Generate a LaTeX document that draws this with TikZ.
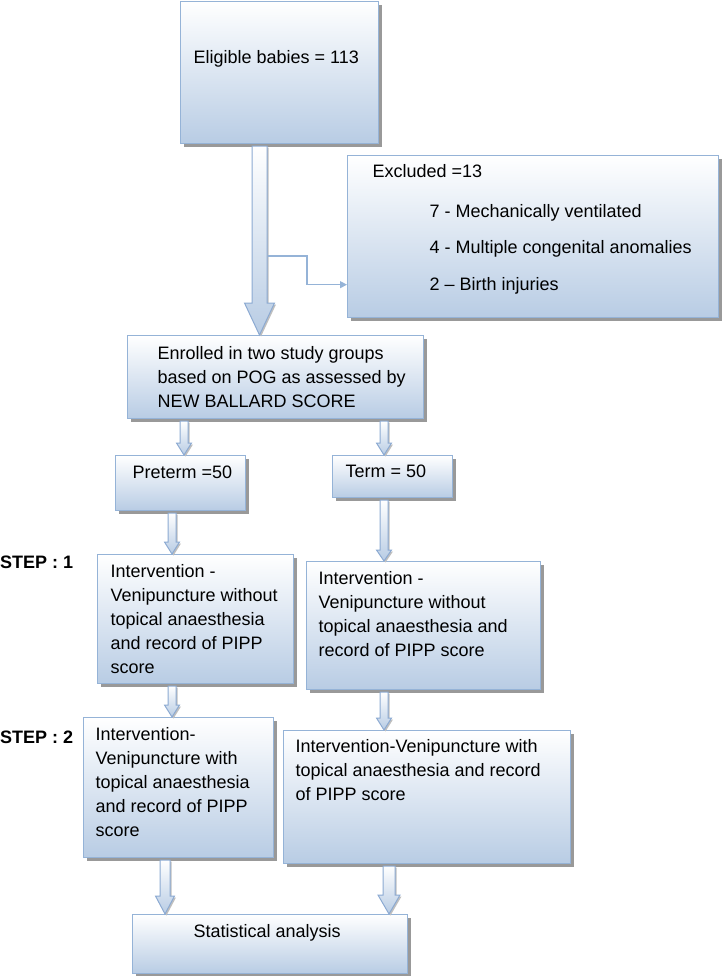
\documentclass[tikz,border=0pt]{standalone}
\usepackage{fontspec}
\setmainfont{Liberation Sans}
\usetikzlibrary{calc,shadows,arrows.meta}
\definecolor{boxblue}{RGB}{184,204,228}
\definecolor{bordercol}{RGB}{149,179,215}
\definecolor{arrowborder}{RGB}{140,170,210}
% width, height, indent, first baseline, text
\newcommand\boxtxt[5]{\parbox[c][#2pt][t]{#1pt}{\vspace*{\dimexpr#4pt-14pt\relax}\leftskip=#3pt\relax\rightskip=0pt plus 1fil\relax\noindent\rule{0pt}{14pt}#5\par}}
% from, to, half shaft, half head, head length
\newcommand\blockarrow[5]{\path[arrowbox] let \p1=#1, \p2=#2 in
  (\x1-#3pt,\y1-2pt) -- (\x1+#3pt,\y1-2pt) -- (\x1+#3pt,\y2+#5pt) -- (\x1+#4pt,\y2+#5pt)
  -- (\x1,\y2) -- (\x1-#4pt,\y2+#5pt) -- (\x1-#3pt,\y2+#5pt) -- cycle;}
\tikzset{
  fbox/.style={draw=bordercol, line width=1.1pt, top color=white, bottom color=boxblue,
    drop shadow={shadow xshift=3pt, shadow yshift=-3pt, fill=black!40, opacity=1},
    inner sep=0pt, anchor=north west, font=\fontsize{18}{24}\selectfont},
  arrowbox/.style={draw=arrowborder, line width=1pt, top color=white, bottom color=boxblue,
    drop shadow={shadow xshift=1.5pt, shadow yshift=-1.5pt, fill=black!25, opacity=1}},
  steplabel/.style={anchor=base west, inner sep=0pt, font=\bfseries\fontsize{18}{24}\selectfont},
  elbow/.style={draw=bordercol, line width=1.2pt, -{Triangle[length=7pt,width=7pt]}}
}
\begin{document}
\begin{tikzpicture}[x=1pt,y=1pt]
\useasboundingbox (0,0) rectangle (722,-976);

\node[fbox] (elig) at (180,-1) {\boxtxt{198}{142}{13}{62}{Eligible babies = 113}};
\node[fbox] (excl) at (347,-155) {\boxtxt{371}{162}{25}{22}{Excluded =13\\[16pt]
  \hspace*{57pt}7 - Mechanically ventilated\\[12pt]
  \hspace*{57pt}4 - Multiple congenital anomalies\\[12.5pt]
  \hspace*{57pt}2 – Birth injuries}};
\node[fbox] (enr) at (127,-335) {\boxtxt{296}{83}{30}{24}{Enrolled in two study groups\\based on POG as assessed by\\NEW BALLARD SCORE}};
\node[fbox] (pre) at (115,-455) {\boxtxt{130}{55}{17}{23}{Preterm =50}};
\node[fbox] (term) at (332,-455) {\boxtxt{120}{42}{13}{22}{Term = 50}};
\node[fbox] (s1l) at (97,-554) {\boxtxt{196}{129}{13}{23}{Intervention -\\Venipuncture without\\topical anaesthesia\\and record of PIPP\\score}};
\node[fbox] (s1r) at (306,-561) {\boxtxt{234}{128}{12}{23}{Intervention -\\Venipuncture without\\topical anaesthesia and\\record of PIPP score}};
\node[fbox] (s2l) at (83,-717) {\boxtxt{190}{140}{12}{23}{Intervention-\\Venipuncture with\\topical anaesthesia\\and record of PIPP\\score}};
\node[fbox] (s2r) at (283,-730) {\boxtxt{287}{133}{12}{22}{Intervention-Venipuncture with\\topical anaesthesia and record\\of PIPP score}};
\node[fbox] (stat) at (132,-914) {\boxtxt{275}{59}{61}{23}{Statistical analysis}};

\node[steplabel] (step1) at (0,-568) {STEP : 1};
\node[steplabel] (step2) at (0,-743) {STEP : 2};

\coordinate (colA) at (259.5,0);
\coordinate (colB) at (184,0);
\coordinate (colC) at (384,0);
\coordinate (colD) at (172,0);
\coordinate (colE) at (165,0);
\coordinate (colF) at (389,0);

\blockarrow{(elig.south -| colA)}{(enr.north -| colA)}{7.5}{15}{32}
\blockarrow{(enr.south -| colB)}{(pre.north -| colB)}{4}{7.5}{12}
\blockarrow{(enr.south -| colC)}{(term.north -| colC)}{4}{7.5}{12}
\blockarrow{(pre.south -| colD)}{(s1l.north -| colD)}{4}{7.5}{12}
\blockarrow{(term.south -| colC)}{(s1r.north -| colC)}{4}{7.5}{11}
\blockarrow{(s1l.south -| colD)}{(s2l.north -| colD)}{4}{7.5}{12}
\blockarrow{(s1r.south -| colC)}{(s2r.north -| colC)}{4}{7.5}{12}
\blockarrow{(s2l.south -| colE)}{(stat.north -| colE)}{5}{9.5}{18}
\blockarrow{(s2r.south -| colF)}{(stat.north -| colF)}{6}{11}{19}

\coordinate (exA) at (267.5,-256);
\coordinate (exB) at (307,-256);
\draw[elbow] (exA) -- (exB) |- ($(excl.north west)!0.795!(excl.south west)$);
\end{tikzpicture}
\end{document}
